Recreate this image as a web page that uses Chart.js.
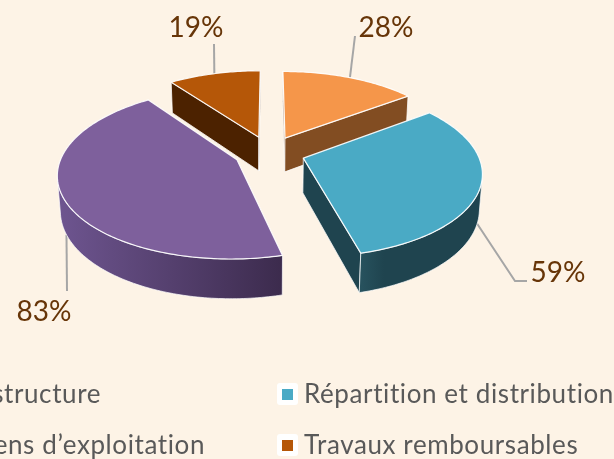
<!DOCTYPE html>
<html>
<head>
<meta charset="utf-8">
<title>Répartition</title>
<script src="https://cdn.jsdelivr.net/npm/chart.js@4"></script>
<style>
  html, body { margin: 0; padding: 0; background: #fdf3e6; overflow: hidden; }
  canvas { display: block; }
</style>
</head>
<body>
<canvas id="pieChart" width="614" height="459"></canvas>
<script>
const categories = ['Infrastructure', 'Répartition et distribution', 'Moyens d’exploitation', 'Travaux remboursables'];
const values = [28, 59, 83, 19];

const topColors = ['#f5964a', '#4aaac5', '#7e609c', '#b55708'];
const flatWallColors = ['#824d22', '#1f444f', '#4a3560', '#4c2200'];
const rimColors = [['#824d22', '#824d22'], ['#28535f', '#1f444f', '#1f444f'], ['#6e5590', '#3c2b4d'], ['#4c2200', '#4c2200']];
// back to front, the way the slices overlap
const drawOrder = [3, 0, 2, 1];

// 3D look of the pie
const explode = 0.204;
const flatten = 0.467;
const depth = 35;
const perspective = 0.157;
const bottomShrink = 0.014;

// label text centre and the elbow of the leader line, one per slice
const labelPos = [[386, 27], [558, 272], [44, 311], [196, 27]];
const leaderEnds = [[[355, 36]], [[515, 281], [527, 281]], [[67, 291]], [[214, 44]]];
const leaderFromBottom = [false, true, true, false];

const legendPos = [[null, 403], [304, 403], [null, 454], [304, 454]];
const legendRight = [101, null, 205, null];

function project(arc, X, Y, Z) {
  const R = arc.outerRadius;
  const s = 1 / (1 - perspective * Y + bottomShrink * Z);
  return [arc.x + X * R * s, arc.y + (Y * R * flatten + Z * depth) * s];
}

function slicePoint(arc, phi, r, Z) {
  const mid = (arc.startAngle + arc.endAngle) / 2 + Math.PI / 2;
  const X = explode * Math.sin(mid) + r * Math.sin(phi);
  const Y = -explode * Math.cos(mid) - r * Math.cos(phi);
  return project(arc, X, Y, Z);
}

function signedArea(pts) {
  let a = 0;
  pts.forEach(function(p, i) {
    const q = pts[(i + 1) % pts.length];
    a += p[0] * q[1] - q[0] * p[1];
  });
  return a;
}

function tracePath(ctx, pts) {
  ctx.beginPath();
  pts.forEach(function(p, i) {
    if (i === 0) ctx.moveTo(p[0], p[1]);
    else ctx.lineTo(p[0], p[1]);
  });
  ctx.closePath();
}

function drawSlice(ctx, arc, i) {
  const start = arc.startAngle + Math.PI / 2;
  const end = arc.endAngle + Math.PI / 2;
  const steps = Math.ceil((end - start) / (Math.PI / 180));
  const phis = [];
  for (let n = 0; n <= steps; n++) phis.push(start + (end - start) * n / steps);

  // flat walls, only the ones that face the viewer
  [start, end].forEach(function(phi, side) {
    const quad = [slicePoint(arc, phi, 0, 0), slicePoint(arc, phi, 1, 0), slicePoint(arc, phi, 1, 1), slicePoint(arc, phi, 0, 1)];
    if ((signedArea(quad) > 0) === (side === 0)) return;
    tracePath(ctx, quad);
    ctx.fillStyle = flatWallColors[i];
    ctx.fill();
    ctx.strokeStyle = 'rgba(255,255,255,0.75)';
    ctx.lineWidth = 1;
    ctx.stroke();
  });

  // rim wall
  const upper = [];
  const lower = [];
  for (let n = 0; n < steps; n++) {
    const q = [slicePoint(arc, phis[n], 1, 0), slicePoint(arc, phis[n + 1], 1, 0), slicePoint(arc, phis[n + 1], 1, 1), slicePoint(arc, phis[n], 1, 1)];
    if (signedArea(q) < 0) {
      if (upper.length === 0) { upper.push(q[0]); lower.push(q[3]); }
      upper.push(q[1]);
      lower.push(q[2]);
    }
  }
  if (upper.length > 0) {
    const wall = upper.concat(lower.slice().reverse());
    const xs = wall.map(function(p) { return p[0]; });
    const x0 = Math.min.apply(null, xs);
    const x1 = Math.max.apply(null, xs);
    const grad = ctx.createLinearGradient(x0, 0, x1, 0);
    rimColors[i].forEach(function(c, k) {
      const offs = rimColors[i].length === 3 && k === 1 ? 0.2 : k / (rimColors[i].length - 1);
      grad.addColorStop(offs, c);
    });
    tracePath(ctx, wall);
    ctx.fillStyle = grad;
    ctx.fill();
    ctx.strokeStyle = 'rgba(255,255,255,0.7)';
    ctx.lineWidth = 1;
    ctx.stroke();
  }

  // top face
  const top = [slicePoint(arc, start, 0, 0)];
  phis.forEach(function(phi) { top.push(slicePoint(arc, phi, 1, 0)); });
  tracePath(ctx, top);
  ctx.fillStyle = topColors[i];
  ctx.fill();
  ctx.strokeStyle = 'rgba(255,255,255,0.9)';
  ctx.lineWidth = 1.2;
  ctx.lineJoin = 'round';
  ctx.stroke();
}

function drawLeader(ctx, arc, i) {
  const mid = (arc.startAngle + arc.endAngle) / 2 + Math.PI / 2;
  const from = slicePoint(arc, mid, 1, leaderFromBottom[i] ? 1 : 0);
  ctx.beginPath();
  ctx.moveTo(from[0], from[1]);
  leaderEnds[i].forEach(function(p) { ctx.lineTo(p[0], p[1]); });
  ctx.strokeStyle = '#a6a6a6';
  ctx.lineWidth = 2;
  ctx.stroke();
}

const pie3d = {
  id: 'pie3d',
  beforeDatasetsDraw: function(chart) {
    const ctx = chart.ctx;
    const arcs = chart.getDatasetMeta(0).data;
    ctx.save();
    drawOrder.forEach(function(i) { drawLeader(ctx, arcs[i], i); });
    drawOrder.forEach(function(i) { drawSlice(ctx, arcs[i], i); });
    ctx.restore();
    return false;
  },
  afterDraw: function(chart) {
    const ctx = chart.ctx;
    ctx.save();
    ctx.textBaseline = 'alphabetic';

    // value labels
    ctx.font = '28px Lato';
    ctx.fillStyle = '#673508';
    ctx.textAlign = 'center';
    values.forEach(function(v, i) {
      ctx.fillText(v + '%', labelPos[i][0], labelPos[i][1] + 10);
    });

    // legend, runs off the left of the picture
    ctx.font = '26px Lato';
    ctx.letterSpacing = '0.6px'; // also stops the ti ligature
    ctx.fillStyle = '#595959';
    categories.forEach(function(name, i) {
      const y = legendPos[i][1];
      if (legendRight[i] !== null) {
        ctx.textAlign = 'right';
        ctx.fillText(name, legendRight[i], y);
      } else {
        const x = legendPos[i][0];
        ctx.fillStyle = '#ffffff';
        ctx.beginPath();
        ctx.roundRect(x - 27, y - 20, 21, 22, 3);
        ctx.fill();
        ctx.fillStyle = topColors[i];
        ctx.fillRect(x - 22, y - 14, 11, 11);
        ctx.fillStyle = '#595959';
        ctx.textAlign = 'left';
        ctx.fillText(name, x, y);
      }
    });
    ctx.restore();
  }
};

document.addEventListener('DOMContentLoaded', function() {
  const ctx = document.getElementById('pieChart').getContext('2d');
  new Chart(ctx, {
    type: 'pie',
    data: {
      labels: categories,
      datasets: [{ data: values, backgroundColor: topColors }]
    },
    options: {
      responsive: false,
      animation: false,
      radius: 174,
      layout: { padding: { right: 75, bottom: 154 } },
      plugins: { legend: { display: false }, tooltip: { enabled: false } }
    },
    plugins: [pie3d]
  });
});
</script>
</body>
</html>
